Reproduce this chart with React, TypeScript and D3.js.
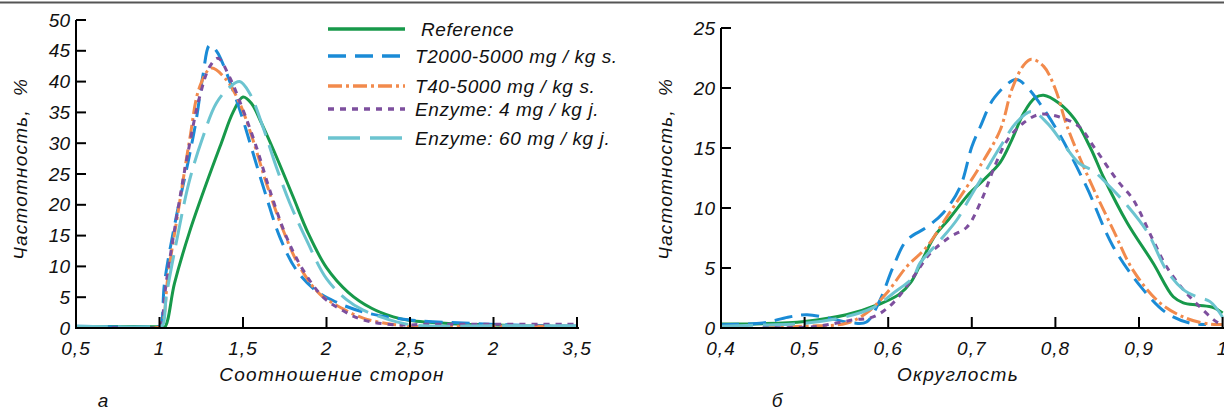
import React from 'react';
import * as d3 from 'd3';

type Pt = [number, number];

// ---- data: aspect ratio (left panel) ----
const aspectRef: Pt[] = [[0.5, 0.2], [1.0, 0.2], [1.03, 0.1], [1.09, 7.3], [1.18, 15.6], [1.28, 23.4], [1.37, 30], [1.44, 35], [1.5, 37.5], [1.55, 36.5], [1.61, 33.3], [1.7, 27.8], [1.8, 21.3], [1.89, 15.4], [2.0, 9.8], [2.13, 5.8], [2.27, 3.2], [2.4, 1.8], [2.5, 1.2], [2.75, 0.7], [3.0, 0.5], [3.25, 0.3], [3.5, 0.2]];
const aspectT2000: Pt[] = [[0.5, 0.3], [1.0, 0.3], [1.01, 0.5], [1.03, 7.3], [1.1, 18], [1.17, 26.8], [1.22, 33.8], [1.26, 41], [1.3, 45.9], [1.34, 45], [1.37, 43.5], [1.44, 38.6], [1.5, 33.8], [1.56, 28.4], [1.64, 21.3], [1.72, 14.8], [1.82, 9.4], [1.94, 6.0], [2.05, 4.3], [2.22, 2.6], [2.5, 1.3], [2.82, 0.8], [3.12, 0.5], [3.5, 0.3]];
const aspectT40: Pt[] = [[0.5, 0.2], [1.0, 0.2], [1.02, 1], [1.05, 8.3], [1.12, 20.3], [1.18, 30.5], [1.24, 39.1], [1.31, 42.2], [1.4, 40.3], [1.48, 36.5], [1.56, 30.5], [1.64, 23.5], [1.74, 15.9], [1.84, 9.9], [1.96, 5.5], [2.06, 3.7], [2.22, 1.6], [2.42, 0.5], [2.5, 0.3], [3.0, 0.3], [3.5, 0.3]];
const aspectEnz4: Pt[] = [[0.5, 0.2], [1.0, 0.2], [1.01, 0.5], [1.04, 7.3], [1.11, 19.2], [1.17, 28.4], [1.24, 37.5], [1.3, 42.4], [1.35, 43.8], [1.42, 40.7], [1.5, 35.4], [1.58, 29.4], [1.66, 22.4], [1.76, 14.8], [1.86, 9.4], [1.98, 5.0], [2.1, 2.8], [2.22, 1.3], [2.42, 0.5], [2.6, 0.6], [3.0, 0.6], [3.5, 0.6]];
const aspectEnz60: Pt[] = [[0.5, 0.3], [1.0, 0.3], [1.02, 0.5], [1.04, 5], [1.1, 13.8], [1.18, 24], [1.26, 31], [1.34, 36.5], [1.42, 39.1], [1.48, 40], [1.54, 38.1], [1.62, 32.6], [1.7, 26.1], [1.78, 20.3], [1.88, 14.3], [2.0, 8.0], [2.12, 4.6], [2.22, 2.9], [2.42, 1.0], [2.55, 0.4], [3.0, 0.35], [3.5, 0.35]];

// ---- data: roundness (right panel) ----
const roundRef: Pt[] = [[0.4, 0.33], [0.45, 0.36], [0.5, 0.55], [0.55, 1.1], [0.59, 2.0], [0.613, 2.8], [0.627, 3.8], [0.641, 5.7], [0.655, 7.6], [0.673, 9.1], [0.697, 11.2], [0.715, 12.4], [0.734, 13.8], [0.748, 15.7], [0.762, 17.9], [0.776, 19.2], [0.786, 19.4], [0.804, 18.75], [0.823, 17.4], [0.842, 15.0], [0.858, 12.5], [0.886, 8.75], [0.917, 5.4], [0.941, 2.6], [0.953, 2.1], [0.97, 1.9], [0.989, 1.7], [1.0, 1.25]];
const roundT2000: Pt[] = [[0.4, 0.28], [0.45, 0.42], [0.48, 0.9], [0.503, 1.1], [0.53, 0.8], [0.558, 0.42], [0.574, 0.5], [0.59, 2.3], [0.606, 5.1], [0.622, 7.3], [0.646, 8.4], [0.666, 9.6], [0.686, 11.75], [0.7, 15.1], [0.71, 16.75], [0.727, 19.2], [0.753, 20.7], [0.767, 20], [0.781, 18.75], [0.804, 16.25], [0.837, 11.8], [0.869, 6.8], [0.905, 3.2], [0.933, 1.25], [0.961, 0.4], [0.98, 0.3]];
const roundT40: Pt[] = [[0.45, 0.05], [0.5, 0.15], [0.55, 0.4], [0.574, 1.25], [0.598, 2.9], [0.622, 5.1], [0.646, 6.75], [0.67, 9.25], [0.694, 11.75], [0.71, 13.5], [0.734, 16.5], [0.748, 19.9], [0.762, 21.9], [0.771, 22.4], [0.786, 21.8], [0.8, 19.9], [0.814, 16.8], [0.841, 12.3], [0.869, 8.2], [0.893, 4.8], [0.925, 2.1], [0.957, 0.8], [0.985, 0.33], [1.0, 0.3]];
const roundEnz4: Pt[] = [[0.45, 0.05], [0.51, 0.1], [0.558, 0.67], [0.582, 0.92], [0.606, 2.1], [0.63, 4.25], [0.65, 6.2], [0.674, 7.6], [0.694, 8.4], [0.71, 10.4], [0.729, 13.75], [0.743, 15.7], [0.762, 17.1], [0.781, 17.8], [0.804, 17.6], [0.828, 16.8], [0.846, 15.1], [0.874, 12.3], [0.893, 10.7], [0.917, 7.3], [0.933, 5.1], [0.953, 3.2], [0.973, 1.75], [0.993, 0.5], [1.0, 0.3]];
const roundEnz60: Pt[] = [[0.4, 0.15], [0.45, 0.25], [0.5, 0.4], [0.55, 0.95], [0.582, 1.7], [0.606, 2.9], [0.63, 4.25], [0.638, 5.4], [0.662, 7.3], [0.682, 9], [0.698, 10.9], [0.71, 12.3], [0.734, 15.1], [0.753, 17.1], [0.771, 18.05], [0.79, 17.1], [0.809, 15.4], [0.828, 13.75], [0.846, 13.05], [0.862, 12.0], [0.886, 10.2], [0.91, 8.0], [0.933, 4.8], [0.953, 3.2], [0.969, 2.6], [0.985, 2.2], [1.0, 0.9]];

const seriesNames = ['Reference', 'T2000-5000 mg / kg s.', 'T40-5000 mg / kg s.', 'Enzyme: 4 mg / kg j.', 'Enzyme: 60 mg / kg j.'];
const seriesColors = ['#17994a', '#1a8bd6', '#f28a4c', '#7d4f9e', '#6cc4d0'];
const seriesDash = ['none', '18 9', '14 4 3 4', '6 6', '32 10'];

const aspectSeries = [aspectRef, aspectT2000, aspectT40, aspectEnz4, aspectEnz60];
const roundSeries = [roundRef, roundT2000, roundT40, roundEnz4, roundEnz60];

const aspectTicks = [0.5, 1, 1.5, 2, 2.5, 3, 3.5];
const aspectTickLabels = ['0,5', '1', '1,5', '2', '2,5', '2', '3,5'];
const roundTicks = [0.4, 0.5, 0.6, 0.7, 0.8, 0.9, 1.0];
const roundTickLabels = ['0,4', '0,5', '0,6', '0,7', '0,8', '0,9', '1'];
const aspectYTicks = d3.range(0, 51, 5);
const roundYTicks = d3.range(0, 26, 5);

const FONT = "'Liberation Sans', Arial, sans-serif";
const axisBottom = 328;

function Panel(props: any) {
  const { x, y, series, xTicks, xLabels, yTicks, xTitle, yTitleX, letter, letterX, xTitleX, clipId } = props;
  const line = d3.line<Pt>()
    .x(d => x(d[0]))
    .y(d => y(d[1]))
    .curve(d3.curveCatmullRom.alpha(0.5));
  const [x0, x1] = x.range();
  const yTop = y.range()[1];
  return (
    <g>
      <defs>
        <clipPath id={clipId}>
          <rect x={x0} y={0} width={x1 - x0 + 4} height={axisBottom - 1} />
        </clipPath>
      </defs>
      <g clipPath={`url(#${clipId})`}>
        {series.map((s: Pt[], i: number) => (
          <path key={i} d={line(s) || ''} fill="none" stroke={seriesColors[i]} strokeWidth={3}
            strokeDasharray={seriesDash[i]} />
        ))}
      </g>
      {/* axes */}
      <line x1={x0} x2={x0} y1={yTop} y2={axisBottom + 1} stroke="#000" strokeWidth={2} />
      <line x1={x0} x2={x1 + 2} y1={axisBottom} y2={axisBottom} stroke="#000" strokeWidth={2} />
      {yTicks.map((t: number) => (
        <g key={'y' + t}>
          <line x1={x0} x2={x0 + 10} y1={y(t)} y2={y(t)} stroke="#000" strokeWidth={2} />
          <text x={x0 - 6} y={y(t)} dy="0.35em" textAnchor="end" fontSize={19}>{t}</text>
        </g>
      ))}
      {xTicks.map((t: number, i: number) => (
        <g key={'x' + i}>
          {i > 0 && <line x1={x(t)} x2={x(t)} y1={axisBottom} y2={axisBottom - 11} stroke="#000" strokeWidth={2} />}
          <text x={x(t)} y={355} textAnchor="middle" fontSize={19} letterSpacing={1}>{xLabels[i]}</text>
        </g>
      ))}
      <text x={xTitleX} y={381} textAnchor="middle" fontSize={19} letterSpacing={1.3}>{xTitle}</text>
      <text transform={`translate(${yTitleX},169) rotate(-90)`} textAnchor="middle" fontSize={19}
        letterSpacing={1.2} style={{ whiteSpace: 'pre' }}>{'Частотность,  %'}</text>
      <text x={letterX} y={407} textAnchor="middle" fontSize={19}>{letter}</text>
    </g>
  );
}

export default function App() {
  const xA = d3.scaleLinear().domain([0.5, 3.5]).range([76, 577]);
  const yA = d3.scaleLinear().domain([0, 50]).range([axisBottom, 20]);
  const xR = d3.scaleLinear().domain([0.4, 1.0]).range([721, 1222.6]);
  const yR = d3.scaleLinear().domain([0, 25]).range([axisBottom, 28]);
  const legendRowY = [29, 56, 86, 109, 138];

  return (
    <svg width={1224} height={410} style={{ position: 'absolute', left: 0, top: 0, background: '#fff' }}
      fontFamily={FONT} fontStyle="italic" fill="#111">
      <rect x={0} y={0} width={1224} height={410} fill="#fff" />
      <line x1={0} x2={1224} y1={2.5} y2={2.5} stroke="#555" strokeWidth={2} />
      <Panel x={xA} y={yA} series={aspectSeries} xTicks={aspectTicks} xLabels={aspectTickLabels}
        yTicks={aspectYTicks} xTitle="Соотношение сторон" xTitleX={332} yTitleX={27}
        letter="а" letterX={103} clipId="clipA" />
      <Panel x={xR} y={yR} series={roundSeries} xTicks={roundTicks} xLabels={roundTickLabels}
        yTicks={roundYTicks} xTitle="Округлость" xTitleX={958} yTitleX={672}
        letter="б" letterX={777} clipId="clipR" />
      {seriesNames.map((name, i) => (
        <g key={name}>
          <line x1={328} x2={405} y1={legendRowY[i]} y2={legendRowY[i]} stroke={seriesColors[i]}
            strokeWidth={3.5} strokeDasharray={seriesDash[i]} />
          <text x={i === 0 ? 421 : 415} y={legendRowY[i] + 7} fontSize={19} letterSpacing={0.6}
            style={{ whiteSpace: 'pre' }}>{name}</text>
        </g>
      ))}
    </svg>
  );
}
